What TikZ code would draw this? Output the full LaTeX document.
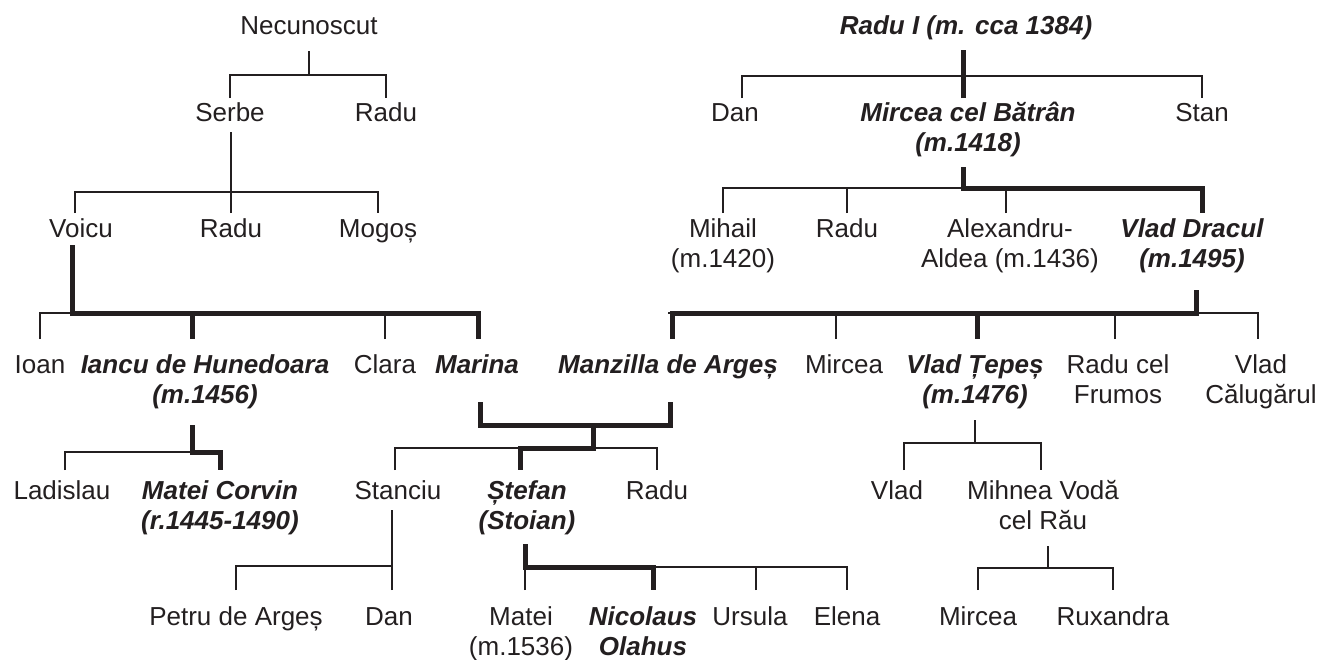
\documentclass[tikz,border=0pt]{standalone}
\usepackage{fontspec}
\setmainfont{Liberation Sans}
\definecolor{ink}{HTML}{231F20}
\begin{document}
\begin{tikzpicture}[x=1pt,y=-1pt,
	person/.style={font=\fontsize{26}{30}\selectfont,text=ink,inner sep=0pt,anchor=base},
	ruler/.style={person,font=\fontsize{26}{30}\selectfont\bfseries\itshape},
	kin/.style={draw=ink,line width=2pt},
	heir/.style={draw=ink,line width=5pt}]
	\def\two#1#2{\begin{tabular}[t]{@{}c@{}}#1\\#2\end{tabular}}
	\useasboundingbox (0,0) rectangle (1328,659);
	% randurile de nume
	\node[person] (nec) at (309,34) {Necunoscut};
	\node[ruler] (radui) at (966,34) {Radu I (m. cca 1384)};
	\node[person] (serbe) at (230,121) {Serbe};
	\node[person] (radua) at (386,121) {Radu};
	\node[person] (dan) at (735,121) {Dan};
	\node[ruler] (mircea) at (968,121) {\two{Mircea cel Bătrân}{(m.1418)}};
	\node[person] (stan) at (1202,121) {Stan};
	\node[person] (voicu) at (81,237) {Voicu};
	\node[person] (radub) at (231,237) {Radu};
	\node[person] (mogos) at (378,237) {Mogoș};
	\node[person] (mihail) at (723,237) {\two{Mihail}{(m.1420)}};
	\node[person] (raduc) at (847,237) {Radu};
	\node[person] (alex) at (1010,237) {\two{Alexandru-}{Aldea (m.1436)}};
	\node[ruler] (dracul) at (1192,237) {\two{Vlad Dracul}{(m.1495)}};
	\node[person] (ioan) at (40,373) {Ioan};
	\node[ruler] (iancu) at (205,373) {\two{Iancu de Hunedoara}{(m.1456)}};
	\node[person] (clara) at (385,373) {Clara};
	\node[ruler] (marina) at (477,373) {Marina};
	\node[ruler] (manzilla) at (668,373) {Manzilla de Argeș};
	\node[person] (mirceab) at (844,373) {Mircea};
	\node[ruler] (tepes) at (975,373) {\two{Vlad Țepeș}{(m.1476)}};
	\node[person] (frumos) at (1118,373) {\two{Radu cel}{Frumos}};
	\node[person] (calugarul) at (1261,373) {\two{Vlad}{Călugărul}};
	\node[person] (ladislau) at (62,499) {Ladislau};
	\node[ruler] (corvin) at (220,499) {\two{Matei Corvin}{(r.1445-1490)}};
	\node[person] (stanciu) at (398,499) {Stanciu};
	\node[ruler] (stefan) at (527,499) {\two{Ștefan}{(Stoian)}};
	\node[person] (radud) at (657,499) {Radu};
	\node[person] (vlad) at (897,499) {Vlad};
	\node[person] (mihnea) at (1043,499) {\two{Mihnea Vodă}{cel Rău}};
	\node[person] (petru) at (236,625) {Petru de Argeș};
	\node[person] (dand) at (389,625) {Dan};
	\node[person] (matei) at (521,625) {\two{Matei}{(m.1536)}};
	\node[ruler] (nicolaus) at (643,625) {\two{Nicolaus}{Olahus}};
	\node[person] (ursula) at (750,625) {Ursula};
	\node[person] (elena) at (847,625) {Elena};
	\node[person] (mirceac) at (978,625) {Mircea};
	\node[person] (ruxandra) at (1113,625) {Ruxandra};
	% barele si capetele de rand
	\path
	(0,75) coordinate (bnec) (0,192) coordinate (bserbe)
	(0,76) coordinate (bradu) (0,188) coordinate (bmircea)
	(0,313) coordinate (bvoicu) (0,452) coordinate (biancu)
	(0,425) coordinate (bwed) (0,448) coordinate (bmarina)
	(0,566) coordinate (bstanciu) (0,567) coordinate (bstefan)
	(0,443) coordinate (btepes) (0,568) coordinate (bmihnea)
	(0,98) coordinate (t1) (0,213) coordinate (t2) (0,339) coordinate (t3)
	(0,470) coordinate (t4) (0,590) coordinate (t5)
	(593,425) coordinate (wed);
	% Necunoscut
	\draw[kin] (nec |- bnec) -- ++(0,-24);
	\draw[kin] (serbe |- t1) |- (bnec -| radua) -- (radua |- t1);
	% Serbe
	\draw[kin] (radub |- t2) -- ++(0,-81);
	\draw[kin] ([xshift=-6pt]voicu |- t2) |- (bserbe -| mogos) -- (mogos |- t2);
	% Radu I
	\draw[kin] ([xshift=7pt]dan |- t1) |- (bradu -| stan) -- (stan |- t1);
	\draw[heir] ([xshift=-5pt]mircea |- t1) -- ++(0,-48);
	% Mircea cel Batran
	\draw[kin] (mihail |- t2) |- (bmircea -| dracul);
	\draw[kin] (raduc |- t2) -- (raduc |- bmircea);
	\draw[kin] ([xshift=-4pt]alex |- t2) -- ([xshift=-4pt]alex |- bmircea);
	\draw[heir] ([xshift=-5pt]mircea |- bmircea) ++(0,-21) -- ++(0,21) -| ([xshift=10pt]dracul |- t2);
	% Voicu si Vlad Dracul
	\draw[kin] (ioan |- t3) |- ([xshift=-9pt]voicu |- bvoicu);
	\draw[kin] (clara |- t3) -- (clara |- bvoicu);
	\draw[kin] (bvoicu -| manzilla) -| ([xshift=-3pt]calugarul |- t3);
	\draw[kin] ([xshift=-8pt]mirceab |- t3) -- ([xshift=-8pt]mirceab |- bvoicu);
	\draw[kin] ([xshift=-3pt]frumos |- t3) -- ([xshift=-3pt]frumos |- bvoicu);
	\draw[heir] ([xshift=-9pt]voicu |- bvoicu) ++(0,-68) -- ++(0,68) -| ([xshift=1pt]marina |- t3);
	\draw[heir] ([xshift=-13pt]iancu |- bvoicu) -- ([xshift=-13pt]iancu |- t3);
	\draw[heir] ([xshift=4pt]dracul |- bvoicu) ++(0,-23) -- ++(0,23) -| ([xshift=4pt]manzilla |- t3);
	\draw[heir] ([xshift=2pt]tepes |- bvoicu) -- ([xshift=2pt]tepes |- t3);
	% Iancu de Hunedoara
	\draw[kin] ([xshift=3pt]ladislau |- t4) |- ([xshift=-13pt]iancu |- biancu);
	\draw[heir] ([xshift=-13pt]iancu |- biancu) ++(0,-27) -- ++(0,27) -| (corvin |- t4);
	% Marina si Manzilla
	\draw[heir] ([xshift=3pt]marina |- bwed) ++(0,-23) |- ([xshift=2pt]manzilla |- bwed) -- ++(0,-23);
	\draw[kin] ([xshift=-3pt]stanciu |- t4) |- (bmarina -| radud) -- (radud |- t4);
	\draw[heir] (wed) |- ([xshift=-7pt]stefan |- bmarina) -- ([xshift=-7pt]stefan |- t4);
	% Stanciu
	\draw[kin] ([xshift=3pt]dand |- t5) -- ++(0,-80);
	\draw[kin] (petru |- t5) |- ([xshift=3pt]dand |- bstanciu);
	% Stefan
	\draw[kin] ([xshift=4pt]matei |- t5) |- (bstefan -| elena) -- (elena |- t5);
	\draw[kin] ([xshift=6pt]ursula |- t5) -- ([xshift=6pt]ursula |- bstefan);
	\draw[heir] ([xshift=4pt]matei |- bstefan) ++(0,-23) -- ++(0,23) -| ([xshift=10pt]nicolaus |- t5);
	% Vlad Tepes
	\draw[kin] ([xshift=7pt]vlad |- t4) |- ([xshift=-2pt]mihnea |- btepes) -- ([xshift=-2pt]mihnea |- t4);
	\draw[kin] (tepes |- btepes) -- ++(0,-23);
	% Mihnea
	\draw[kin] (mirceac |- t5) |- (bmihnea -| ruxandra) -- (ruxandra |- t5);
	\draw[kin] ([xshift=5pt]mihnea |- bmihnea) -- ++(0,-22);
\end{tikzpicture}
\end{document}
